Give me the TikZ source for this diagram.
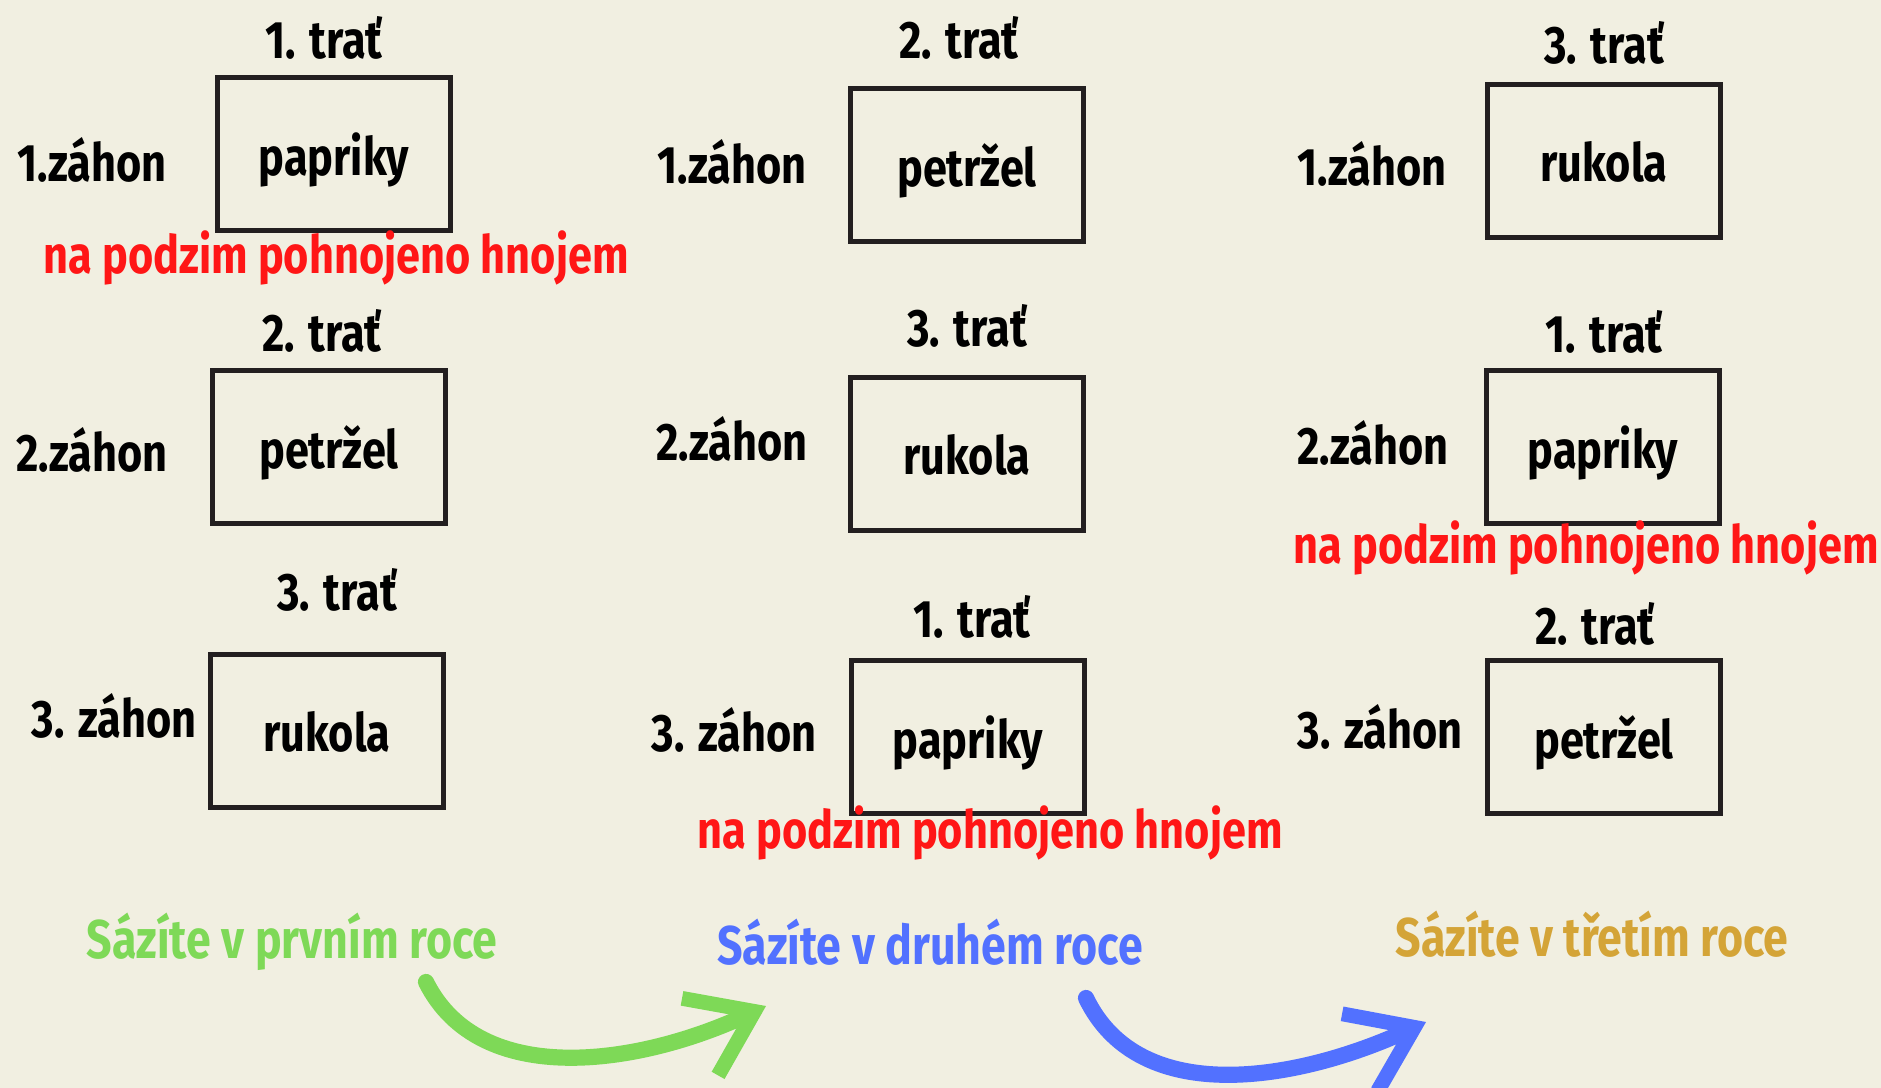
\documentclass[tikz,border=0pt]{standalone}
\usepackage{fontspec}
\setmainfont[FakeStretch=0.82]{Fira Sans}
\usetikzlibrary{arrows.meta, positioning}
\definecolor{Bg}{HTML}{F1EFE1}
\definecolor{Ink}{HTML}{231F20}
\definecolor{ColorR}{HTML}{FF1616}
\definecolor{ColorG}{HTML}{7ED957}
\definecolor{ColorB}{HTML}{5271FF}
\definecolor{ColorY}{HTML}{D4A437}

\begin{document}
\begin{tikzpicture}[x=0.01cm, y=-0.01cm,
bed/.style={
	rectangle,
	draw=Ink,
	line width=1.4pt,
	minimum width=2.33cm,
	minimum height=1.52cm,
	inner sep=0pt,
	text depth=0pt,
	font=\bfseries\fontsize{15}{18}\selectfont,
	text=black},
trat/.style={
	inner sep=0pt,
	font=\bfseries\fontsize{15}{18}\selectfont,
	text=black},
zahon/.style={
	inner sep=0pt,
	font=\bfseries\fontsize{15}{18}\selectfont,
	text=black},
manure/.style={
	inner sep=0pt,
	font=\bfseries\fontsize{15}{18}\selectfont,
	text=ColorR},
year/.style={
	inner sep=0pt,
	font=\bfseries\fontsize{15.5}{18}\selectfont},
swing/.style={
	draw,
	line width=4.6pt,
	line cap=round,
	-{Straight Barb[length=6mm, width=8.5mm, line width=4.2pt]}}]

%Background
\fill[Bg] (0,0) rectangle (1881,1088);
\useasboundingbox (0,0) rectangle (1881,1088);

%First year
\node[bed] (A1) at (334,154) {papriky};
\node[bed] (A2) at (329,447) {petržel};
\node[bed] (A3) at (327,731) {rukola};

\node[trat] (A1t) at (324,38) {1. trať};
\node[trat] (A2t) at (322,331) {2. trať};
\node[trat] (A3t) at (337,590) {3. trať};

\node[zahon] (A1z) at (92,160) {1.záhon};
\node[zahon] (A2z) at (92,450) {2.záhon};
\node[zahon] (A3z) at (114,716) {3. záhon};

\node[manure] (A1m) at (336,258) {na podzim pohnojeno hnojem};

%Second year
\node[bed] (B1) at (967,165) {petržel};
\node[bed] (B2) at (967,454) {rukola};
\node[bed] (B3) at (968,737) {papriky};

\node[trat] (B1t) at (959,38) {2. trať};
\node[trat] (B2t) at (967,326) {3. trať};
\node[trat] (B3t) at (972,617) {1. trať};

\node[zahon] (B1z) at (732,162) {1.záhon};
\node[zahon] (B2z) at (732,439) {2.záhon};
\node[zahon] (B3z) at (734,730) {3. záhon};

\node[manure] (B3m) at (990,833) {na podzim pohnojeno hnojem};

%Third year
\node[bed] (C1) at (1604,161) {rukola};
\node[bed] (C2) at (1603,447) {papriky};
\node[bed] (C3) at (1604,737) {petržel};

\node[trat] (C1t) at (1604,43) {3. trať};
\node[trat] (C2t) at (1604,332) {1. trať};
\node[trat] (C3t) at (1595,624) {2. trať};

\node[zahon] (C1z) at (1372,164) {1.záhon};
\node[zahon] (C2z) at (1373,443) {2.záhon};
\node[zahon] (C3z) at (1380,727) {3. záhon};

\node[manure] (C2m) at (1586,548) {na podzim pohnojeno hnojem};

%Years
\node[year, text=ColorG] (Y1) at (292,942) {Sázíte v prvním roce};
\node[year, text=ColorB] (Y2) at (930,942) {Sázíte v druhém roce};
\node[year, text=ColorY] (Y3) at (1592,934) {Sázíte v třetím roce};

\coordinate (g1) at (426,982);
\coordinate (g2) at (766,1006);
\coordinate (b1) at (1086,998);
\coordinate (b2) at (1426,1022);

\path[swing, color=ColorG] (g1) .. controls (480,1090) and (640,1065) .. (g2);
\path[swing, color=ColorB] (b1) .. controls (1140,1110) and (1300,1080) .. (b2);

\end{tikzpicture}
\end{document}
